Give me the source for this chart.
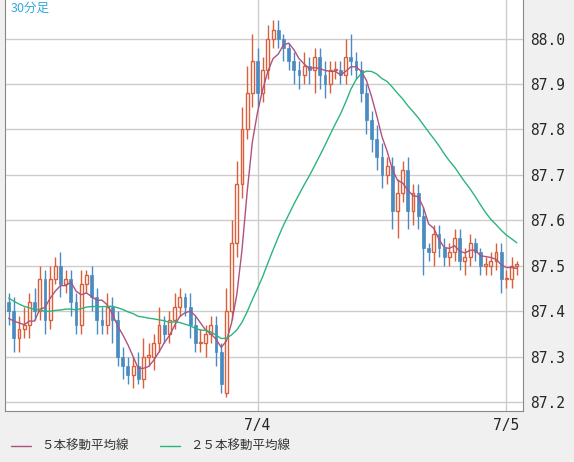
import numpy as np, pandas as pd, matplotlib
matplotlib.use("Agg")
import matplotlib.pyplot as plt, seaborn as sns
from matplotlib.lines import Line2D

pre_closes = [87.52,87.51,87.50,87.50,87.49,87.48,87.48,87.46,87.45,87.44,87.42,87.42,
              87.41,87.40,87.39,87.40,87.38,87.38,87.39,87.38,87.37,87.38,87.39,87.38]
closes = [87.40,87.34,87.36,87.37,87.42,87.40,87.47,87.38,87.47,87.50,87.46,87.47,87.42,87.37,
          87.46,87.48,87.43,87.38,87.37,87.41,87.38,87.30,87.28,87.26,87.28,87.25,87.30,87.30,
          87.33,87.37,87.35,87.38,87.41,87.43,87.41,87.37,87.33,87.33,87.35,87.37,87.31,87.24,
          87.40,87.55,87.68,87.80,87.88,87.95,87.88,87.93,88.00,88.02,88.00,87.98,87.95,87.93,
          87.92,87.94,87.93,87.96,87.92,87.90,87.93,87.93,87.92,87.96,87.95,87.93,87.88,87.82,
          87.78,87.74,87.70,87.72,87.62,87.66,87.71,87.62,87.66,87.61,87.54,87.53,87.57,87.54,
          87.52,87.53,87.56,87.51,87.52,87.55,87.53,87.50,87.50,87.51,87.53,87.47,87.47,87.50,87.50]
opens = [87.42] + closes[:-1]
opens[42] = 87.22
upper_wick = [0.02,0.03,0.03,0.04,0.02,0.03,0.03,0.02,0.03,0.02,0.03,0.02,0.02,0.02,0.03,0.01,
              0.02,0.02,0.03,0.03,0.02,0.02,0.02,0.02,0.02,0.03,0.04,0.03,0.02,0.04,0.02,0.02,
              0.03,0.02,0.01,0.03,0.02,0.03,0.02,0.02,0.02,0.02,0.05,0.05,0.05,0.05,0.06,0.06,
              0.03,0.03,0.03,0.02,0.02,0.01,0.01,0.02,0.02,0.03,0.02,0.02,0.02,0.03,0.02,0.02,
              0.02,0.04,0.05,0.02,0.02,0.02,0.02,0.03,0.03,0.02,0.02,0.03,0.02,0.03,0.02,0.02,
              0.02,0.01,0.02,0.02,0.02,0.02,0.02,0.02,0.02,0.02,0.01,0.01,0.02,0.02,0.02,0.02,
              0.02,0.02,0.01]
lower_wick = [0.03,0.03,0.03,0.02,0.03,0.02,0.02,0.03,0.02,0.01,0.03,0.02,0.03,0.02,0.02,0.02,
              0.03,0.03,0.02,0.02,0.05,0.02,0.03,0.02,0.03,0.01,0.02,0.02,0.03,0.02,0.02,0.02,
              0.02,0.02,0.02,0.03,0.02,0.02,0.03,0.02,0.03,0.02,0.01,0.02,0.03,0.03,0.02,0.03,
              0.03,0.02,0.02,0.02,0.02,0.03,0.02,0.03,0.03,0.02,0.03,0.05,0.03,0.03,0.02,0.02,
              0.02,0.02,0.03,0.02,0.02,0.03,0.03,0.03,0.03,0.02,0.04,0.06,0.02,0.04,0.03,0.03,
              0.06,0.02,0.03,0.02,0.02,0.02,0.02,0.02,0.03,0.02,0.02,0.02,0.02,0.02,0.02,0.03,
              0.02,0.02,0.02]
tick_pos = [48, 96]
tick_labels = ["7/4", "7/5"]
y_ticks = [87.2,87.3,87.4,87.5,87.6,87.7,87.8,87.9,88.0]

RED, BLUE, MA5C, MA25C = "#d9603b", "#4a8bc2", "#b0527e", "#2bb57c"
n = len(closes)
idx = np.arange(n)
o = np.array(opens); c = np.array(closes)
hi = np.maximum(o, c) + np.array(upper_wick)
lo = np.minimum(o, c) - np.array(lower_wick)
allc = pd.Series(pre_closes + closes)
ma5 = allc.rolling(5).mean().values[len(pre_closes):]
ma25 = allc.rolling(25).mean().values[len(pre_closes):]
df = pd.DataFrame({"x": idx, "ma5": ma5, "ma25": ma25})

sns.set_style("white")
fig = plt.figure(figsize=(5.74, 4.62), dpi=100, facecolor="#f0f0f0")
ax = fig.add_axes([5/574, 1-411/462, 518/574, 411/462])
ax.set_facecolor("white")
for v in y_ticks:
    ax.axhline(v, color="#cccccc", lw=1, zorder=0)
for p in tick_pos:
    ax.axvline(p, color="#cccccc", lw=1, zorder=0)

up = c >= o
ax.vlines(idx[up], lo[up], hi[up], color=RED, lw=1, zorder=2)
ax.vlines(idx[~up], lo[~up], hi[~up], color=BLUE, lw=1, zorder=2)
ax.bar(idx[up], np.maximum(c[up]-o[up], 0.003), bottom=o[up], width=0.55, facecolor="white",
       edgecolor=RED, lw=1, zorder=3)
ax.bar(idx[~up], o[~up]-c[~up], bottom=c[~up], width=0.55, color=BLUE, edgecolor=BLUE, lw=0.5, zorder=3)
sns.lineplot(data=df, x="x", y="ma5", color=MA5C, lw=1, ax=ax, zorder=4)
sns.lineplot(data=df, x="x", y="ma25", color=MA25C, lw=1, ax=ax, zorder=4)

ax.set_xlim(-0.7, n + 0.2)
ax.set_ylim(87.18, 88.085)
ax.yaxis.tick_right()
ax.set_yticks(y_ticks)
ax.set_yticklabels([f"{v:.1f}" for v in y_ticks], fontsize=10.5, family="DejaVu Sans Mono")
ax.set_xticks(tick_pos)
ax.set_xticklabels(tick_labels, fontsize=10.5, family="DejaVu Sans Mono")
ax.tick_params(length=0, pad=5)
ax.set_xlabel(""); ax.set_ylabel("")
ax.spines["top"].set_visible(False)
for s in ["left", "right", "bottom"]:
    ax.spines[s].set_color("#888888")
ax.text(0.01, 0.995, "30分足", transform=ax.transAxes, ha="left", va="top", color="#33aadd",
        fontsize=9, family=["Noto Sans CJK JP", "DejaVu Sans"])

handles = [Line2D([], [], color=MA5C, lw=1), Line2D([], [], color=MA25C, lw=1)]
fig.legend(handles, ["５本移動平均線", "２５本移動平均線"], loc="lower left", bbox_to_anchor=(0.0, -0.005),
           ncol=2, frameon=False, prop={"family": ["Noto Sans CJK JP", "DejaVu Sans"], "size": 9},
           handlelength=1.6, columnspacing=2.5, labelcolor="#333333")
fig.savefig("out.png", dpi=100, facecolor=fig.get_facecolor())
